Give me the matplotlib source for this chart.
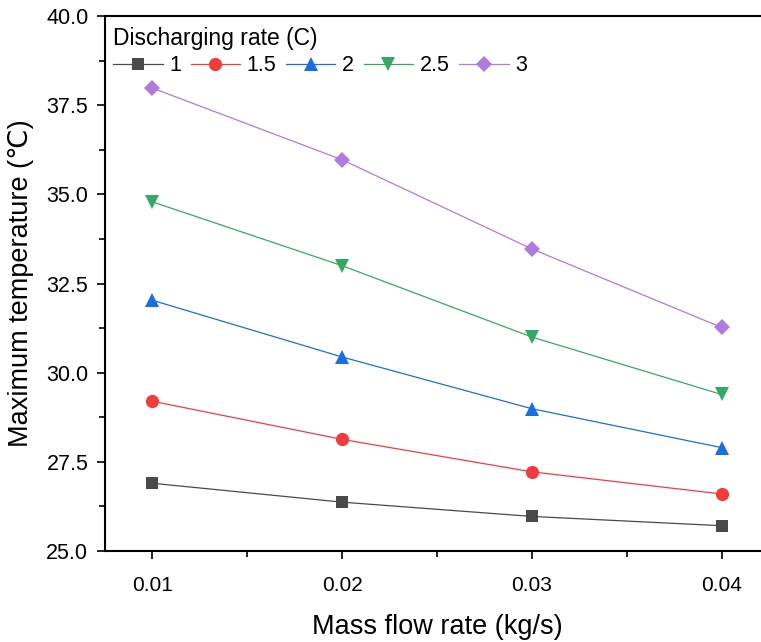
import matplotlib
matplotlib.use("Agg")
import matplotlib.pyplot as plt
from matplotlib.ticker import MultipleLocator, FormatStrFormatter

plt.rcParams['font.family'] = ['Liberation Sans', 'DejaVu Sans']

flow_rate = [0.01, 0.02, 0.03, 0.04]
rate_labels = ['1', '1.5', '2', '2.5', '3']
temp_1 = [26.90, 26.37, 25.97, 25.71]
temp_1_5 = [29.20, 28.13, 27.22, 26.60]
temp_2 = [32.03, 30.44, 28.99, 27.90]
temp_2_5 = [34.79, 33.00, 31.00, 29.39]
temp_3 = [37.98, 35.97, 33.47, 31.27]

series = [temp_1, temp_1_5, temp_2, temp_2_5, temp_3]
colors = ['#4a4a4a', '#f03c3c', '#1a6ee0', '#36a865', '#b07ae0']
markers = ['s', 'o', '^', 'v', 'D']
sizes = [9, 9.5, 10.5, 10.5, 8]

fig = plt.figure(figsize=(7.61, 6.42), dpi=100)
ax = fig.add_axes([0.138, 0.1417, 0.8725, 0.8333])

for vals, lab, c, m, s in zip(series, rate_labels, colors, markers, sizes):
    ax.plot(flow_rate, vals, color=c, lw=0.9, marker=m, ms=s,
            markeredgewidth=0, label=lab)

ax.set_xlim(0.0075, 0.0425)
ax.set_ylim(25.0, 40.0)
ax.set_xticks(flow_rate)
ax.set_xticklabels(['0.01', '0.02', '0.03', '0.04'])
ax.xaxis.set_minor_locator(MultipleLocator(0.005))
ax.yaxis.set_major_locator(MultipleLocator(2.5))
ax.yaxis.set_minor_locator(MultipleLocator(1.25))
ax.yaxis.set_major_formatter(FormatStrFormatter('%.1f'))

ax.tick_params(which='major', direction='out', length=6, width=1.2,
               labelsize=15.5, pad=6)
ax.tick_params(axis='x', which='major', pad=12, labelsize=15)
ax.tick_params(which='minor', direction='out', length=4, width=1.2)
for sp in ax.spines.values():
    sp.set_linewidth(1.5)

ax.set_xlabel('Mass flow rate (kg/s)', fontsize=19.5, labelpad=14)
ax.set_ylabel('Maximum temperature (℃)', fontsize=19.5)
ax.yaxis.set_label_coords(-0.107, 0.5)

leg = ax.legend(title='Discharging rate (C)', ncol=5, loc='upper left',
                bbox_to_anchor=(-0.009, 1.005), frameon=False, fontsize=15.5,
                title_fontsize=16.5, handlelength=2.3, handletextpad=0.3,
                columnspacing=0.45, labelspacing=0.22, borderaxespad=0.25)
leg._legend_box.align = 'left'

fig.savefig('out.png', dpi=100)
